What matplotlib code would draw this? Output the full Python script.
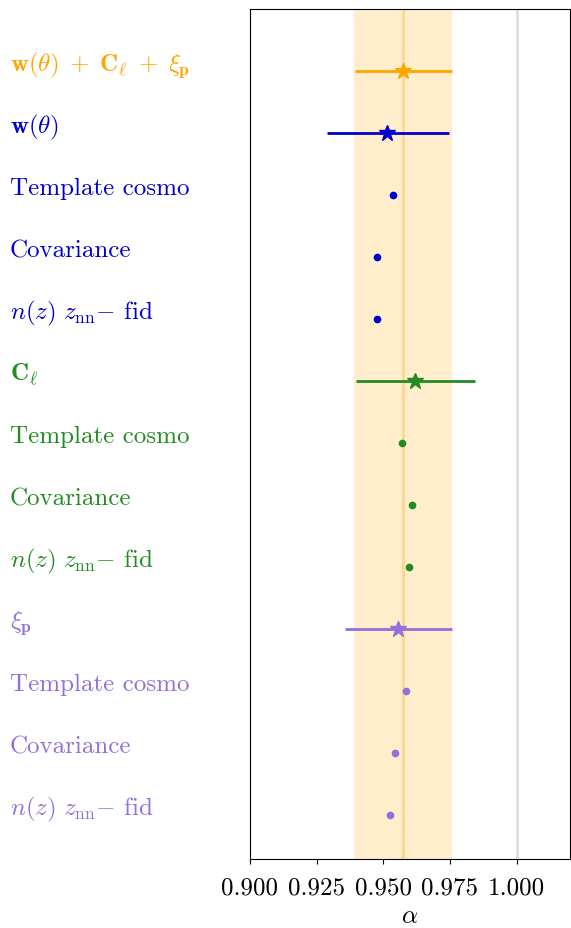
import numpy as np
import matplotlib.pyplot as plt
from matplotlib.transforms import blended_transform_factory, ScaledTranslation

plt.rcParams['font.family'] = 'serif'
plt.rcParams['font.serif'] = ['cmr10']
plt.rcParams['mathtext.fontset'] = 'cm'
plt.rcParams['axes.formatter.use_mathtext'] = True
plt.rcParams['font.size'] = 18

# rows from top to bottom
labels = [r'$\mathbf{w}(\theta) \;+\; \mathbf{C}_\ell \;+\; \xi_\mathbf{p}$',
          r'$\mathbf{w}(\theta)$', 'Template cosmo', 'Covariance', r'$n(z)\ z_{\rm nn}{-}$ fid',
          r'$\mathbf{C}_\ell$', 'Template cosmo', 'Covariance', r'$n(z)\ z_{\rm nn}{-}$ fid',
          r'$\xi_\mathbf{p}$', 'Template cosmo', 'Covariance', r'$n(z)\ z_{\rm nn}{-}$ fid']
alpha = [0.9573, 0.9513, 0.9536, 0.9476, 0.9476,
         0.9618, 0.9569, 0.9607, 0.9596,
         0.9554, 0.9584, 0.9543, 0.9524]
err_lo = [0.9393, 0.9290, None, None, None,
          0.9397, None, None, None,
          0.9356, None, None, None]
err_hi = [0.9757, 0.9745, None, None, None,
          0.9843, None, None, None,
          0.9757, None, None, None]
colors = ['orange'] + ['mediumblue'] * 4 + ['forestgreen'] * 4 + ['mediumpurple'] * 4

band_lo, band_mid, band_hi = 0.9390, 0.9573, 0.9757

fig = plt.figure(figsize=(5.71, 9.29), dpi=100)
ax = fig.add_axes([250 / 571, 1 - 860 / 929, 320 / 571, 850 / 929])

ax.axvspan(band_lo, band_hi, color='orange', alpha=0.2, lw=0)
ax.axvline(band_mid, color='orange', alpha=0.3, lw=2)
ax.axvline(1.0, color='gray', alpha=0.25, lw=2)

n = len(labels)
ys = n - np.arange(n)
tr = blended_transform_factory(fig.transFigure, ax.transData) + \
    ScaledTranslation(0, 7 / 100, fig.dpi_scale_trans)
for i in range(n):
    y = ys[i]
    if err_lo[i] is not None:
        ax.errorbar(alpha[i], y, xerr=[[alpha[i] - err_lo[i]], [err_hi[i] - alpha[i]]],
                    fmt='*', color=colors[i], ms=12, lw=2, capsize=0)
    else:
        ax.plot(alpha[i], y, 'o', color=colors[i], ms=4.5)
    ax.text(10 / 571, y, labels[i], color=colors[i], transform=tr,
            ha='left', va='center', fontsize=18)

ax.set_xlim(0.9, 1.02)
ax.set_ylim(0.29, n + 1)
ax.set_xticks([0.900, 0.925, 0.950, 0.975, 1.000])
ax.set_xticklabels(['0.900', '0.925', '0.950', '0.975', '1.000'])
ax.tick_params(axis='x', pad=9)
ax.set_yticks([])
ax.set_xlabel(r'$\alpha$', fontsize=18, labelpad=5)

fig.savefig('out.png', dpi=100)
